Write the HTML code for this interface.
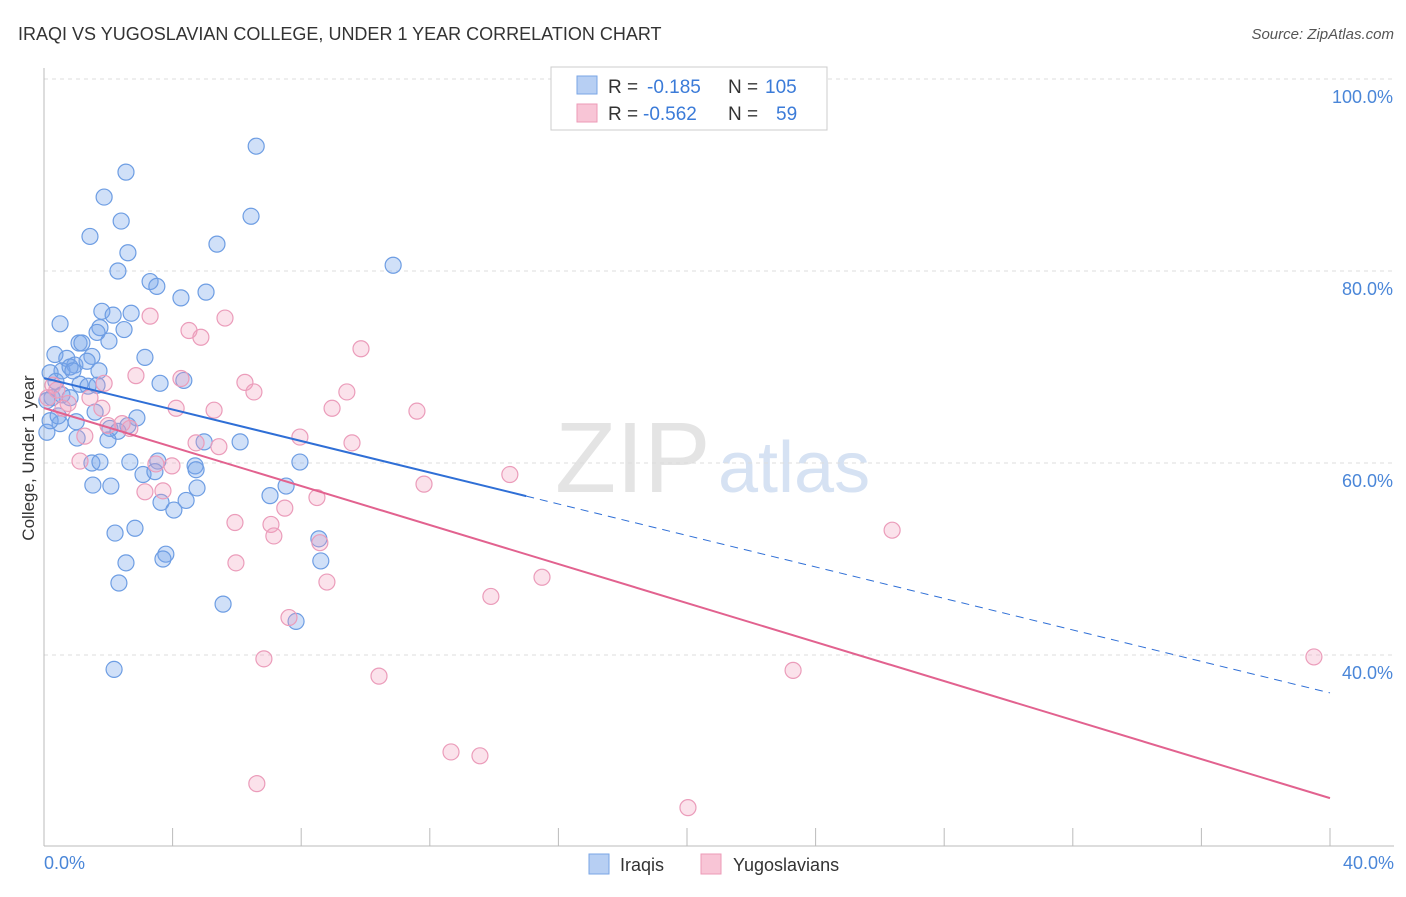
<!DOCTYPE html>
<html><head><meta charset="utf-8"><style>
body{margin:0;background:#fff;font-family:"Liberation Sans",sans-serif;}
svg text{font-family:"Liberation Sans",sans-serif;}
</style></head><body>
<svg id="chart" width="1406" height="892">
<text x="18" y="40" font-size="18" fill="#333">IRAQI VS YUGOSLAVIAN COLLEGE, UNDER 1 YEAR CORRELATION CHART</text>
<text x="1394" y="39" font-size="15" fill="#555" font-style="italic" text-anchor="end">Source: ZipAtlas.com</text>
<text x="555" y="492" font-size="100" fill="#e4e4e4" font-family="Liberation Serif">ZIP</text>
<text x="718" y="492" font-size="72" fill="#d6e2f3">atlas</text>
<g id="grid"></g>
<g id="axes"></g>
<g id="marks"></g>
<text x="34" y="458" font-size="17" fill="#333" text-anchor="middle" transform="rotate(-90 34 458)">College, Under 1 year</text>
<g>
<rect x="551" y="67" width="276" height="63" fill="#fff" stroke="#ccc"/>
<rect x="577" y="76" width="20" height="18" fill="#b7cff3" stroke="#7aa6e6"/>
<rect x="577" y="104" width="20" height="18" fill="#f8c5d6" stroke="#ec9ab7"/>
<text x="608" y="93" font-size="19" fill="#333">R =</text>
<text x="647" y="93" font-size="19" fill="#3b7bd8">-0.185</text>
<text x="728" y="93" font-size="19" fill="#333">N =</text>
<text x="765" y="93" font-size="19" fill="#3b7bd8">105</text>
<text x="608" y="120" font-size="19" fill="#333">R =</text>
<text x="643" y="120" font-size="19" fill="#3b7bd8">-0.562</text>
<text x="728" y="120" font-size="19" fill="#333">N =</text>
<text x="776" y="120" font-size="19" fill="#3b7bd8">59</text>
</g>
<g>
<rect x="589" y="854" width="20" height="20" fill="#b7cff3" stroke="#7aa6e6"/>
<text x="620" y="871" font-size="18" fill="#333">Iraqis</text>
<rect x="701" y="854" width="20" height="20" fill="#f8c5d6" stroke="#ec9ab7"/>
<text x="733" y="871" font-size="18" fill="#333">Yugoslavians</text>
</g>
</svg>
<script>
const yTicks=[100,80,60,40];
const xTickLabels=["0.0%","40.0%"];
const iraqiX=[6.6,2.55,1.87,1.43,2.4,6.44,2.61,5.38,10.86,2.3,3.3,3.51,4.26,5.04,0.5,1.8,2.15,2.71,1.74,2.49,1.65,2.02,1.09,1.18,3.14,0.34,0.71,1.49,0.96,1.34,0.56,0.81,1.71,0.19,0.37,1.12,1.37,1.65,3.61,4.35,0.25,0.09,0.56,0.81,1.59,2.89,1.0,2.05,2.61,0.5,2.3,1.03,1.99,4.98,6.1,1.49,1.74,2.67,3.54,4.7,7.96,3.08,3.45,4.73,1.52,2.08,4.76,3.64,4.42,4.04,7.03,7.53,2.83,2.21,8.55,3.79,3.7,2.55,8.61,2.33,5.57,7.84,2.18,0.09,0.19,0.44,0.9];
const iraqiY=[93.0,90.3,87.7,83.6,85.2,85.7,81.9,82.8,80.6,80.0,78.9,78.4,77.2,77.8,74.5,75.8,75.4,75.6,74.1,73.9,73.6,72.7,72.5,72.5,71.0,71.3,70.9,71.1,70.2,70.6,69.6,70.0,69.6,69.4,68.5,68.2,68.0,68.1,68.3,68.6,66.8,66.5,67.1,66.8,65.3,64.7,64.3,63.6,63.9,64.1,63.3,62.6,62.4,62.2,62.2,60.0,60.1,60.1,60.2,59.7,60.1,58.8,59.1,59.3,57.7,57.6,57.4,55.9,56.1,55.1,56.6,57.6,53.2,52.7,52.1,50.5,50.0,49.6,49.8,47.5,45.3,43.5,38.5,63.2,64.4,64.9,69.6];
const yugoX=[3.3,5.63,4.51,4.88,9.86,2.86,4.26,6.25,6.53,9.42,8.96,11.6,4.11,5.29,0.28,0.12,0.75,0.59,1.8,2.67,2.43,1.99,4.73,5.44,7.96,9.58,0.4,1.12,1.27,3.98,14.49,11.82,3.14,3.7,8.49,7.49,5.94,7.06,7.15,8.58,5.97,8.8,15.49,13.9,26.38,7.62,6.84,10.42,23.3,39.5,12.66,13.56,6.62,20.03,1.87,3.48,1.43];
const yugoY=[75.3,75.1,73.8,73.1,71.9,69.1,68.8,68.4,67.4,67.4,65.7,65.4,65.7,65.5,68.1,66.8,66.2,65.7,65.7,63.6,64.1,63.9,62.1,61.7,62.7,62.1,67.6,60.2,62.8,59.7,58.8,57.8,57.0,57.1,56.4,55.3,53.8,53.6,52.4,51.7,49.6,47.6,48.1,46.1,53.0,43.9,39.6,37.8,38.4,39.8,29.9,29.5,26.6,24.1,68.3,59.9,66.8];
const iraqiFit=[68.85,-0.82];
const yugoFit=[65.73,-1.016];
const X=v=>44+v*32.15, Y=v=>1039-v*9.6;
const NS="http://www.w3.org/2000/svg";
function mk(tag,attrs,parent){const e=document.createElementNS(NS,tag);for(const k in attrs)e.setAttribute(k,attrs[k]);parent.appendChild(e);return e;}
const grid=document.getElementById('grid'),axes=document.getElementById('axes'),marks=document.getElementById('marks');
yTicks.forEach(t=>{
 const l=mk('line',{x1:44,x2:1394,y1:Y(t),y2:Y(t),stroke:'#ddd','stroke-dasharray':'4,4'},grid);
 
 
 const tx=mk('text',{x:1393,y:Y(t)+24,'font-size':18,fill:'#4a86d8','text-anchor':'end'},axes);
 tx.textContent=t.toFixed(1)+'%';
 
 
});
const ax=mk('line',{x1:44,x2:1394,y1:846,y2:846,stroke:'#bbb'},axes);


const ay=mk('line',{x1:44,x2:44,y1:68,y2:846,stroke:'#bbb'},axes);


for(let i=1;i<=10;i++){const t=mk('line',{x1:X(i*4),x2:X(i*4),y1:828,y2:846,stroke:'#bbb'},axes);
 
 }
[[0,'start',44],[40,'end',1394]].forEach((d,i)=>{const t=mk('text',{x:d[2],y:869,'font-size':18,fill:'#4a86d8','text-anchor':d[1]},axes);t.textContent=xTickLabels[i];
 
 });
function pts(xs,ys,fill,stroke,name){xs.forEach((x,i)=>{const c=mk('circle',{cx:X(x),cy:Y(ys[i]),r:8,fill:fill,stroke:stroke,'stroke-width':1.2},marks);
 
 });}
pts(iraqiX,iraqiY,'rgba(120,165,235,0.35)','#6d9de3','iraqi-point');
pts(yugoX,yugoY,'rgba(242,160,190,0.3)','#eb9cba','yugoslavian-point');
const f=(p,x)=>p[0]+p[1]*x;
const b1=mk('line',{x1:X(0),y1:Y(f(iraqiFit,0)),x2:X(15),y2:Y(f(iraqiFit,15)),stroke:'#2f6fd6','stroke-width':2},marks);


const b2=mk('line',{x1:X(15),y1:Y(f(iraqiFit,15)),x2:X(40),y2:Y(f(iraqiFit,40)),stroke:'#2f6fd6','stroke-width':1,'stroke-dasharray':'8,6'},marks);


const p1=mk('line',{x1:X(0),y1:Y(f(yugoFit,0)),x2:X(40),y2:Y(f(yugoFit,40)),stroke:'#e2628f','stroke-width':2},marks);


</script>
</body></html>
